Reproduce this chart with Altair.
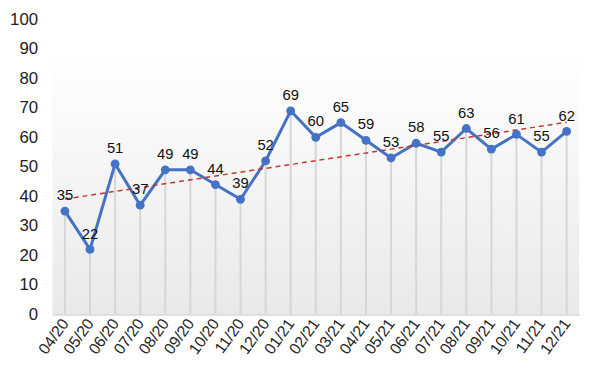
import altair as alt
import pandas as pd

months = ["04/20", "05/20", "06/20", "07/20", "08/20", "09/20", "10/20", "11/20", "12/20",
          "01/21", "02/21", "03/21", "04/21", "05/21", "06/21", "07/21", "08/21", "09/21",
          "10/21", "11/21", "12/21"]
values = [35, 22, 51, 37, 49, 49, 44, 39, 52, 69, 60, 65, 59, 53, 58, 55, 63, 56, 61, 55, 62]

df = pd.DataFrame({"idx": list(range(len(months))), "month": months, "value": values})

label_arr = "[" + ",".join("'" + m + "'" for m in months) + "]"
FONT = "Liberation Sans"

xscale = alt.Scale(domain=[-0.5, len(months) - 0.5], nice=False, zero=False)
yscale = alt.Scale(domain=[0, 100], nice=False)

x_axis = alt.Axis(values=list(range(len(months))), labelExpr=label_arr + "[datum.value]",
                  labelAngle=-54, labelAlign="right", labelBaseline="middle",
                  labelFontSize=16, labelColor="#222222", labelFont=FONT, labelPadding=6,
                  labelOverlap=False, labelBound=False, labelFlush=False,
                  ticks=False, grid=False, domain=True, domainColor="#d9d9d9", domainWidth=2,
                  title=None)
y_axis = alt.Axis(values=list(range(0, 101, 10)), labelFontSize=17, labelColor="#222222",
                  labelFont=FONT, labelPadding=15, labelOverlap=False, labelBound=False,
                  labelFlush=False, ticks=False, grid=False, domain=False, title=None)


def X(field):
    return alt.X(field, scale=xscale, axis=x_axis)


def Y(field):
    return alt.Y(field, scale=yscale, axis=y_axis)


bg_df = pd.DataFrame({"x0": [-0.5], "x1": [len(months) - 0.5], "y0": [0], "y1": [89]})
bg = alt.Chart(bg_df).mark_rect(
    color=alt.LinearGradient(gradient="linear", x1=0, y1=0, x2=0, y2=1,
                             stops=[alt.GradientStop(color="#ffffff", offset=0),
                                    alt.GradientStop(color="#e9e9e9", offset=1)])
).encode(x=X("x0:Q"), x2="x1:Q", y=Y("y0:Q"), y2="y1:Q")

base = alt.Chart(df)

drops = base.mark_rule(color="#d6d6d6", strokeWidth=2).encode(
    x=X("idx:Q"), y=Y("value:Q"), y2=alt.datum(0)
)

line = base.mark_line(color="#4472c4", strokeWidth=3).encode(x=X("idx:Q"), y=Y("value:Q"))

points = base.mark_circle(color="#4472c4", size=80, opacity=1).encode(
    x=X("idx:Q"), y=Y("value:Q")
)

trend = base.transform_regression("idx", "value", method="linear").mark_line(
    color="#c0392b", strokeWidth=1.5, strokeDash=[5, 4]
).encode(x=X("idx:Q"), y=Y("value:Q"))

labels = base.mark_text(dy=-16, fontSize=15, font=FONT, color="#111111").encode(
    x=X("idx:Q"), y=Y("value:Q"), text="value:Q"
)

chart = alt.layer(bg, drops, line, trend, points, labels).properties(
    width=534, height=299,
    autosize=alt.AutoSizeParams(type="none"),
    padding={"left": 45, "top": 9, "right": 13, "bottom": 60},
).configure_view(stroke=None)

chart.save("out.html", embed_options={"renderer": "svg", "actions": False})
